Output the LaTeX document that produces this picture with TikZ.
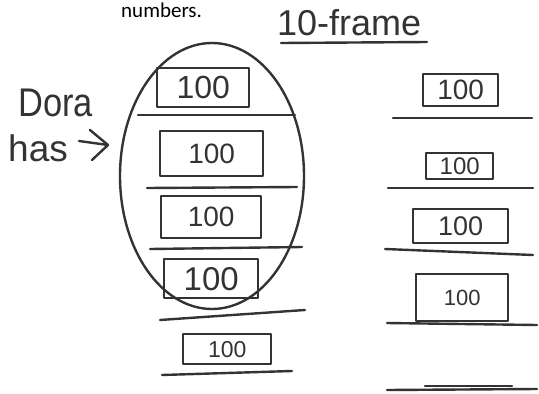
\documentclass[tikz,border=0pt]{standalone}
\usepackage{fontspec}
\setmainfont{Liberation Sans}
\newfontfamily\printfont{Carlito}
\newcommand{\fs}[1]{\fontsize{#1}{#1}\selectfont}
\begin{document}
\begin{tikzpicture}[x=1pt,y=-1pt,
  ink/.style={draw=black!80,line width=2.4pt,line cap=round,line join=round},
  numbox/.style={ink,inner sep=0pt,anchor=north west,text=black!80},
  hand/.style={text=black!80,inner sep=0pt}]
\useasboundingbox (0,0) rectangle (539,394);
% title fragment
\node[font=\printfont\fs{21},inner sep=0pt,anchor=base west] (numbers) at (121,17) {numbers.};
\node[hand,font=\fs{36},anchor=base west] (tenframe) at (277,35) {10-frame};
\draw[ink] (281,43) -- (427,42);
% Dora has ->
\node[hand,font=\fs{40},anchor=base west,xscale=0.86] (dora) at (18,116) {Dora};
\node[hand,font=\fs{37},anchor=base west] (has) at (8,161) {has};
\coordinate (arrtip) at (108,145);
\coordinate (arrtail) at (79,141);
\draw[ink] (arrtail) -- (arrtip);
\draw[ink] (90,130) -- (arrtip) -- (92,160);
% ellipse
\draw[ink] (212,176) ellipse [x radius=92,y radius=133];
% left column boxes
\node[numbox,minimum width=92pt,minimum height=39pt,font=\fs{32}] (L1) at (156,67) {100};
\node[numbox,minimum width=103pt,minimum height=45pt,font=\fs{28}] (L2) at (159,130) {100};
\node[numbox,minimum width=100pt,minimum height=42pt,font=\fs{28}] (L3) at (160,195) {100};
\node[numbox,minimum width=94pt,minimum height=39pt,font=\fs{33}] (L4) at (163,258) {100};
\node[numbox,minimum width=88pt,minimum height=30pt,font=\fs{23}] (L5) at (182,333) {100};
% left column lines
\draw[ink] (138,115) -- (295,115);
\draw[ink] (147,188) -- (297,187);
\draw[ink] (150,249) -- (302,247);
\draw[ink] (160,320) -- (305,310);
\draw[ink] (162,375) -- (292,371);
% right column boxes
\node[numbox,minimum width=75pt,minimum height=32pt,font=\fs{28}] (R1) at (422,73) {100};
\node[numbox,minimum width=67pt,minimum height=26pt,font=\fs{24}] (R2) at (425,152) {100};
\node[numbox,minimum width=95pt,minimum height=34pt,font=\fs{27}] (R3) at (412,208) {100};
\node[numbox,minimum width=92pt,minimum height=47pt,font=\fs{22}] (R4) at (415,273) {100};
% right column lines
\draw[ink] (393,118) -- (532,118);
\draw[ink] (388,188) -- (533,188);
\draw[ink] (385,249) -- (533,255);
\draw[ink] (387,323) -- (537,325);
\draw[ink] (387,390) -- (537,389);
\draw[ink] (425,386) -- (512,386);
\end{tikzpicture}
\end{document}
